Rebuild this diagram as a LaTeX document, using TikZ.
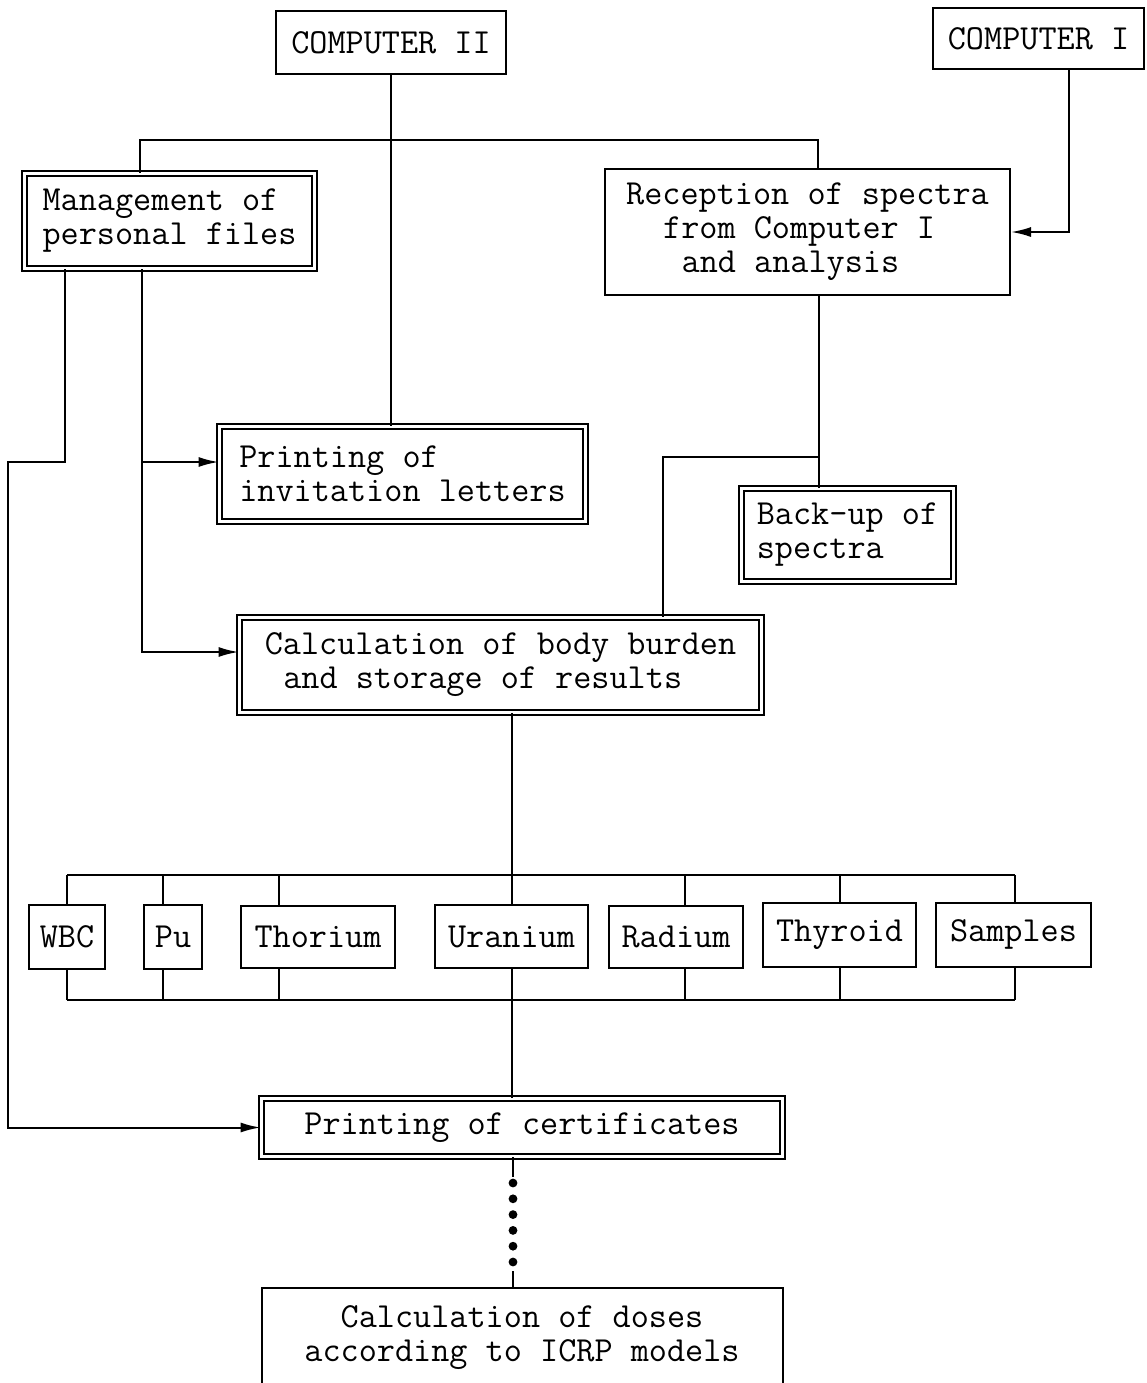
\documentclass[tikz,border=0pt]{standalone}
\usepackage{fontspec}
\usetikzlibrary{positioning,arrows.meta}
\tikzset{
  every node/.style={
    font=\fontsize{17.6}{17}\selectfont\ttfamily\addfontfeature{FakeBold=1.2},
    inner sep=1pt
  },
  box/.style={draw, line width=1pt},
  dbox/.style={draw, double, line width=0.8pt, double distance=1.8pt},
  arr/.style={-{Latex[length=10pt,width=5pt]}},
  dotline/.style={line width=4.4pt, line cap=round, dash pattern=on 0pt off 7.9pt}
}

\begin{document}
\begin{tikzpicture}[x=0.5pt,y=-0.5pt,line width=1pt]
      \useasboundingbox (0,0) rectangle (1147,1383);
      \node [box,minimum width=115pt,minimum height=31.5pt,font=\fontsize{17.6}{17}\selectfont\ttfamily] (Comp2) at (391,42.5) {COMPUTER II};
      \node [box,on grid,above right=2pt and 323.75pt of Comp2,minimum width=105.5pt,minimum height=30.5pt,font=\fontsize{17.6}{17}\selectfont\ttfamily] (Comp1) {COMPUTER I};
      \node [dbox,on grid,below left=89.25pt and 110.75pt of Comp2,minimum width=145.1pt,minimum height=47.6pt,align=left] (Manage) {Management of\\personal files};
      \node [box,on grid,below right=94.75pt and 208.25pt of Comp2,minimum width=202.5pt,minimum height=63pt,align=left] (Recep) {Reception of spectra\\\hspace*{1.05em}from Computer I\\\hspace*{1.575em}and analysis};
      \node [dbox,on grid,below right=126.5pt and 116.5pt of Manage,minimum width=183.1pt,minimum height=47.6pt,align=left] (Invite) {Printing of\\invitation letters};
      \node [dbox,on grid,below right=151.5pt and 20pt of Recep,minimum width=106.1pt,minimum height=46.6pt,align=left] (Backup) {Back-up of\\spectra};
      \node [dbox,on grid,below right=95.5pt and 49pt of Invite,minimum width=261.1pt,minimum height=47.6pt,align=left] (Calc) {Calculation of body burden\\\hspace*{0.525em}and storage of results};

      \node [box,on grid,below right=135.75pt and 5.5pt of Calc,minimum width=76.5pt,minimum height=31.5pt] (Uranium) {Uranium};
      \node [box,on grid,left=96.75pt of Uranium,minimum width=77pt,minimum height=31pt] (Thorium) {Thorium};
      \node [box,on grid,left=72.5pt of Thorium,minimum width=29pt,minimum height=32pt] (Pu) {Pu};
      \node [box,on grid,left=53pt of Pu,minimum width=38pt,minimum height=32pt] (WBC) {WBC};
      \node [box,on grid,right=82.25pt of Uranium,minimum width=67pt,minimum height=31pt] (Radium) {Radium};
      \node [box,on grid,above right=1pt and 81.75pt of Radium,minimum width=76.5pt,minimum height=32pt] (Thyroid) {Thyroid};
      \node [box,on grid,right=87pt of Thyroid,minimum width=77.5pt,minimum height=32pt] (Samples) {Samples};

      \node [dbox,on grid,below right=95.5pt and 5.25pt of Uranium,minimum width=260.6pt,minimum height=29.1pt] (Certif) {Printing of certificates};
      \node [box,on grid,below=105pt of Certif,minimum width=260.5pt,minimum height=49.5pt,align=center] (Doses) {Calculation of doses\\according to ICRP models};

      \coordinate (J1) at (140,140);
      \coordinate (J2) at (818,140);
      \draw (Comp2.south) -- (Comp2.south |- Invite.north);
      \draw (Manage.north -| J1) |- (J2) -- (Recep.north -| J2);
      \coordinate (C1) at (1069,232);
      \draw [arr] (Comp1.south -| C1) |- (Recep.east);

      \coordinate (K1) at (65,462);
      \coordinate (K2) at (8,462);
      \draw [arr] (Manage.south -| K1) -- (K1) -- (K2) |- (Certif.west);
      \coordinate (M1) at (142,462);
      \coordinate (M2) at (142,652);
      \draw [arr] (Manage.south -| M1) -- (M2) -- (M2 -| Calc.west);
      \draw [arr] (M1) -- (M1 -| Invite.west);

      \coordinate (R1) at (819,457);
      \coordinate (R2) at (663,457);
      \draw (Recep.south -| R1) -- (Backup.north -| R1);
      \draw (R1) -- (R2) -- (Calc.north -| R2);

      \coordinate (BusTL) at (67,875);
      \coordinate (BusTR) at (1015,875);
      \coordinate (BusBL) at (67,1000);
      \coordinate (BusBR) at (1015,1000);
      \draw (BusTL) -- (BusTR);
      \draw (BusBL) -- (BusBR);
      \foreach \n/\x in {WBC/67,Pu/163,Thorium/279,Radium/685,Thyroid/840,Samples/1015}{
        \coordinate (T) at (\x,875);
        \coordinate (B) at (\x,1000);
        \draw (T) -- (\n.north -| T);
        \draw (B) -- (\n.south -| B);
      }
      \draw (Calc.south -| Uranium.north) -- (Uranium.north);
      \draw (Uranium.south) -- (Certif.north -| Uranium.south);

      \coordinate (D1) at (513,1177);
      \coordinate (D2) at (513,1183);
      \coordinate (D3) at (513,1263);
      \coordinate (D4) at (513,1271);
      \draw (Certif.south -| D1) -- (D1);
      \draw [dotline] (D2) -- (D3);
      \draw (D4) -- (Doses.north -| D4);
    \end{tikzpicture}
\end{document}
